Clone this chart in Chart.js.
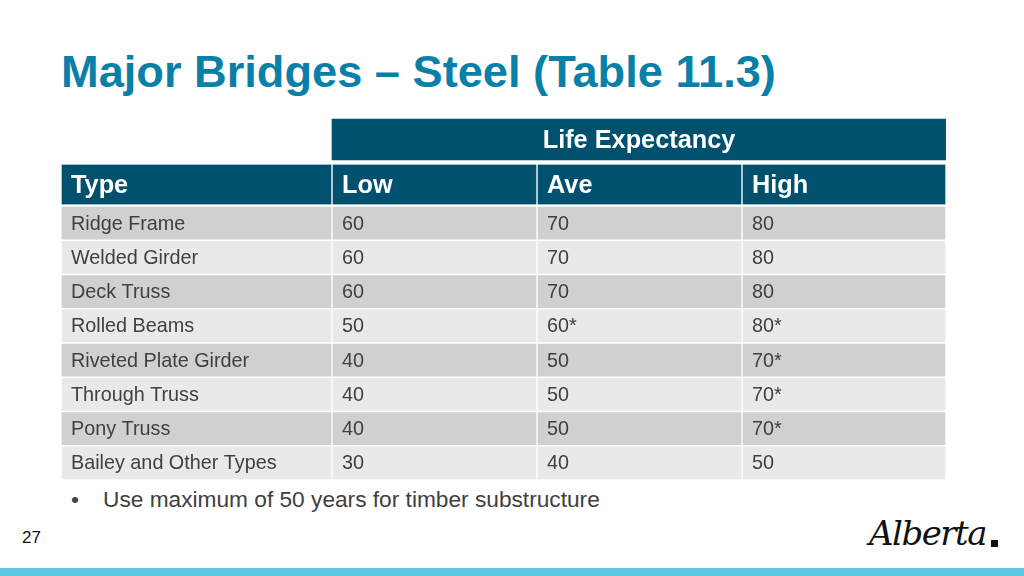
<!DOCTYPE html>
<html>
<head>
<meta charset="utf-8">
<script src="https://cdn.jsdelivr.net/npm/chart.js@4"></script>
<style>
  html, body { margin: 0; padding: 0; }
  body {
    width: 1024px; height: 576px; position: relative; overflow: hidden;
    background: #fff; font-family: "Liberation Sans", Arial, sans-serif;
  }
  #title {
    position: absolute; left: 61px; top: 44px; white-space: nowrap;
    font-size: 45.2px; line-height: 56px; font-weight: bold; color: #0a80a9;
  }
  canvas { position: absolute; left: 61px; }
  #head { top: 117px; }
  #body { top: 206px; }
  .note { position: absolute; top: 486px; font-size: 22.7px; line-height: 26px; color: #404040; white-space: nowrap; }
  #page { position: absolute; left: 22px; top: 528px; font-size: 17px; line-height: 20px; color: #111; }
  #logo {
    position: absolute; left: 869px; top: 512px; font-family: "DejaVu Serif", serif;
    font-style: italic; font-size: 34px; line-height: 42px; color: #111; letter-spacing: -1.5px;
  }
  #logoBox { position: absolute; left: 991px; top: 540px; width: 7px; height: 7px; background: #111; }
  #band { position: absolute; left: 0; top: 568px; width: 1024px; height: 8px; background: #5bc8e6; }
</style>
</head>
<body>
<div id="title">Major Bridges – Steel (Table 11.3)</div>
<canvas id="head" width="885" height="90"></canvas>
<canvas id="body" width="885" height="274"></canvas>
<div class="note" style="left:71px">•</div>
<div class="note" style="left:103px">Use maximum of 50 years for timber substructure</div>
<div id="page">27</div>
<div id="logo">Alberta</div>
<div id="logoBox"></div>
<div id="band"></div>
<script>
(() => {
    'use strict'

    const groupLabel = 'Life Expectancy'
    const columns = ['Type', 'Low', 'Ave', 'High']
    const types = ['Ridge Frame', 'Welded Girder', 'Deck Truss', 'Rolled Beams',
        'Riveted Plate Girder', 'Through Truss', 'Pony Truss', 'Bailey and Other Types']
    const low = ['60', '60', '60', '50', '40', '40', '40', '30']
    const ave = ['70', '70', '70', '60*', '50', '50', '50', '40']
    const high = ['80', '80', '80', '80*', '70*', '70*', '70*', '50']

    const COLORS = {
        header: '#00506e',
        rowDark: '#cdd1d4',
        rowLight: '#e8e9eb',
        text: '#404040',
        white: '#ffffff',
    }
    const FONT = '"Liberation Sans", Arial, sans-serif'

    // column edges in table units (one unit = one pixel of table width)
    const colEdges = [0, 271, 476, 681, 885]
    const span = (c) => [colEdges[c], colEdges[c + 1]]

    // writes each dataset's labels into the bars the library placed
    const cellText = {
        id: 'cellText',
        afterDatasetsDraw(chart) {
            const ctx = chart.ctx
            chart.data.datasets.forEach((ds, di) => {
                chart.getDatasetMeta(di).data.forEach((bar, i) => {
                    const label = ds.labels[i]
                    if (!label) return
                    const left = Math.min(bar.x, bar.base)
                    const right = Math.max(bar.x, bar.base)
                    ctx.save()
                    ctx.font = ds.textFont
                    ctx.fillStyle = ds.textColor
                    ctx.textBaseline = 'middle'
                    ctx.textAlign = ds.textAlign || 'left'
                    const x = ds.textAlign === 'center' ? (left + right) / 2 : left + 10
                    ctx.fillText(label, x, bar.y + (ds.textDy || 0))
                    ctx.restore()
                })
            })
        },
    }

    const baseOptions = {
        indexAxis: 'y',
        responsive: false,
        animation: false,
        layout: { padding: 0 },
        plugins: { legend: { display: false }, tooltip: { enabled: false } },
        scales: {
            x: { type: 'linear', min: colEdges[0], max: colEdges[colEdges.length - 1], display: false },
            y: { type: 'category', display: false, offset: true },
        },
    }

    new Chart(document.getElementById('head'), {
        type: 'bar',
        data: {
            labels: [groupLabel, columns[0]],
            datasets: [
                {
                    data: [[colEdges[1], colEdges[4]], null],
                    labels: [groupLabel, null],
                    backgroundColor: COLORS.header,
                    borderWidth: 0,
                    barThickness: 41,
                    grouped: false,
                    textFont: 'bold 25.3px ' + FONT,
                    textColor: COLORS.white,
                    textAlign: 'center',
                    textDy: 2,
                },
                ...columns.map((name, c) => ({
                    data: [null, span(c)],
                    labels: [null, name],
                    backgroundColor: COLORS.header,
                    borderColor: COLORS.white,
                    borderWidth: { left: 1, right: 1, top: 0, bottom: 0 },
                    borderSkipped: false,
                    barThickness: 40,
                    grouped: false,
                    textFont: 'bold 25.3px ' + FONT,
                    textColor: COLORS.white,
                    textDy: 2,
                })),
            ],
        },
        options: baseOptions,
        plugins: [cellText],
    })

    new Chart(document.getElementById('body'), {
        type: 'bar',
        data: {
            labels: types,
            datasets: [types, low, ave, high].map((values, c) => ({
                data: values.map(() => span(c)),
                labels: values,
                backgroundColor: (ctx) => ctx.dataIndex % 2 === 0 ? COLORS.rowDark : COLORS.rowLight,
                borderColor: COLORS.white,
                borderWidth: 1,
                borderSkipped: false,
                barPercentage: 1,
                categoryPercentage: 1,
                grouped: false,
                textFont: '19.8px ' + FONT,
                textColor: COLORS.text,
                textDy: 1,
            })),
        },
        options: baseOptions,
        plugins: [cellText],
    })
})()
</script>
</body>
</html>
